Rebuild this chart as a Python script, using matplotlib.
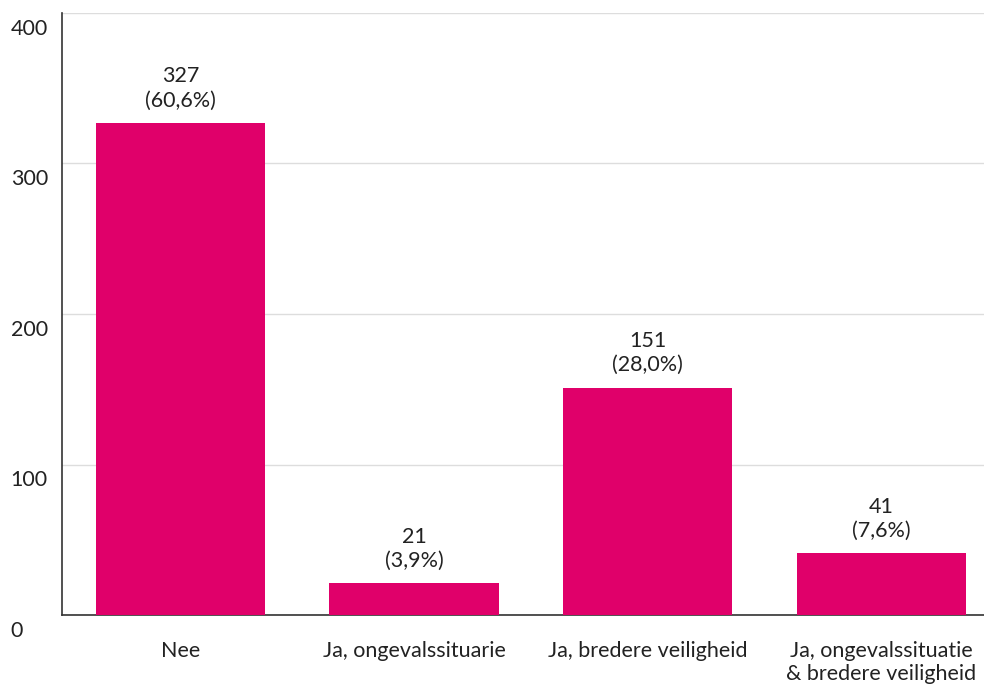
import numpy as np
import matplotlib.pyplot as plt
import matplotlib.transforms as mtransforms

# Data
categories = ["Nee", "Ja, ongevalssituarie", "Ja, bredere veiligheid",
              "Ja, ongevalssituatie\n& bredere veiligheid"]
counts = [327, 21, 151, 41]
percents = ["60,6%", "3,9%", "28,0%", "7,6%"]
yticks = [0, 100, 200, 300, 400]

plt.rcParams['font.family'] = ['Lato', 'DejaVu Sans']

fig = plt.figure(figsize=(9.84, 6.88), dpi=100)
ax = fig.add_axes([62/984, 73/688, 1 - 62/984, (615-13)/688])

x = np.arange(len(categories))
ax.bar(x, counts, width=0.724, color="#E0006A", zorder=3)

for xi, c, p in zip(x, counts, percents):
    ax.annotate(f"{c}\n({p})", (xi, c), xytext=(0, 9), textcoords="offset points",
                ha="center", va="bottom", fontsize=15.5, color="#222222",
                linespacing=1.25)

ax.set_xlim(-0.507, 3.44)
ax.set_ylim(0, 400)
ax.set_yticks(yticks)
ax.set_yticklabels([str(t) for t in yticks])
ax.set_xticks(x)
ax.set_xticklabels(categories, fontsize=15.5, color="#222222", linespacing=1.15)

ax.grid(axis="y", color="#dddddd", linewidth=1, zorder=0)
ax.tick_params(axis="x", length=0, pad=19)
ax.tick_params(axis="y", length=0, pad=37, labelsize=15.5, labelcolor="#222222")
shift = mtransforms.ScaledTranslation(0, -4/72, fig.dpi_scale_trans)
for lab in ax.get_yticklabels():
    lab.set_ha("left")
    lab.set_va("top")
    lab.set_transform(lab.get_transform() + shift)

for s in ["top", "right"]:
    ax.spines[s].set_visible(False)
ax.spines["left"].set_color("#333333")
ax.spines["bottom"].set_color("#333333")
ax.spines["left"].set_linewidth(1.2)
ax.spines["bottom"].set_linewidth(1.2)

fig.savefig("out.png", dpi=100)
